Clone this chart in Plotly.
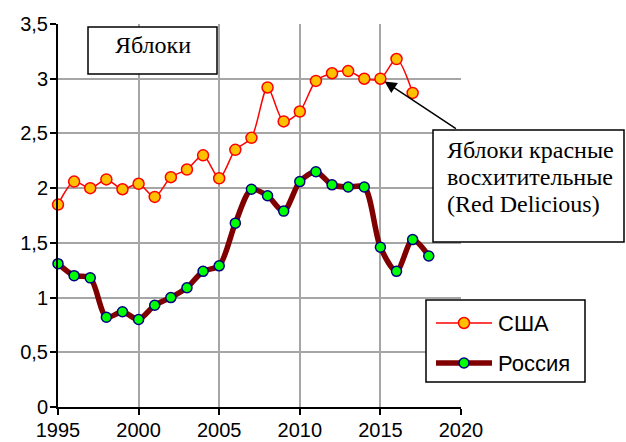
import plotly.graph_objects as go

# Apple prices, USA (Red Delicious) and Russia
years_usa = list(range(1995, 2018))
usa = [1.85, 2.06, 2.00, 2.08, 1.99, 2.04, 1.92, 2.10, 2.17, 2.30, 2.09, 2.35,
       2.46, 2.92, 2.61, 2.70, 2.98, 3.05, 3.07, 3.00, 3.00, 3.18, 2.87]

years_rus = list(range(1995, 2019))
russia = [1.31, 1.20, 1.18, 0.82, 0.87, 0.80, 0.93, 1.00, 1.09, 1.24, 1.29, 1.68,
          1.99, 1.93, 1.79, 2.06, 2.15, 2.03, 2.01, 2.01, 1.46, 1.24, 1.53, 1.38]

x_ticks = [1995, 2000, 2005, 2010, 2015, 2020]
y_ticks = [0, 0.5, 1, 1.5, 2, 2.5, 3, 3.5]

title_text = "Яблоки"
callout_lines = ["Яблоки красные", "восхитительные", "(Red Delicious)"]

SANS = "Liberation Sans"
SERIF = "Liberation Serif"

W, H = 626, 442
ML, MR, MT, MB = 58, 165, 24, 35
PW, PH = W - ML - MR, H - MT - MB


def px(x):
    """Page pixel x -> paper fraction."""
    return (x - ML) / PW


def py(y):
    """Page pixel y -> paper fraction."""
    return (H - MB - y) / PH


USA_LINE = "#FF0000"
USA_FILL = "#FFC000"
RUS_LINE = "#800000"
RUS_FILL = "#00FF00"
RUS_EDGE = "#000080"

fig = go.Figure()

fig.add_trace(go.Scatter(
    x=years_usa, y=usa, name="США", mode="lines+markers",
    line=dict(color=USA_LINE, width=1.5, shape="spline", smoothing=0.8),
    marker=dict(size=11, color=USA_FILL, line=dict(color=USA_LINE, width=1.5)),
    cliponaxis=False,
))
fig.add_trace(go.Scatter(
    x=years_rus, y=russia, name="Россия", mode="lines+markers",
    line=dict(color=RUS_LINE, width=5.5, shape="spline", smoothing=0.8),
    marker=dict(size=10, color=RUS_FILL, line=dict(color=RUS_EDGE, width=1.5)),
    cliponaxis=False,
))

# Title box
fig.add_shape(type="rect", xref="paper", yref="paper",
              x0=px(88), x1=px(217), y0=py(74), y1=py(27),
              line=dict(color="black", width=1.5), fillcolor="white", layer="above")
fig.add_annotation(
    xref="paper", yref="paper", x=px(152.5), y=py(45),
    xanchor="center", yanchor="middle",
    text=title_text, showarrow=False,
    font=dict(family=SERIF, size=24, color="black"),
)

# Arrow pointing at the 2015 value
fig.add_annotation(
    x=2015, y=usa[years_usa.index(2015)], xref="x", yref="y",
    ax=77, ay=51, text="", showarrow=True,
    arrowhead=2, arrowsize=1.6, arrowwidth=1.5, arrowcolor="black",
    standoff=5,
)

# Callout box
fig.add_shape(type="rect", xref="paper", yref="paper",
              x0=px(433), x1=px(624), y0=py(242), y1=py(130),
              line=dict(color="black", width=1.5), fillcolor="white", layer="above")
for i, line_text in enumerate(callout_lines):
    fig.add_annotation(
        xref="paper", yref="paper", x=px(445), y=py(150 + 27 * i),
        xanchor="left", yanchor="middle",
        text=line_text, showarrow=False,
        font=dict(family=SERIF, size=24, color="black"),
    )

# Legend, drawn as layout shapes and text
fig.add_shape(type="rect", xref="paper", yref="paper",
              x0=px(426), x1=px(585), y0=py(382), y1=py(300),
              line=dict(color="black", width=1.5), fillcolor="white", layer="above")
legend_rows = [
    ("США", 323, USA_LINE, 1.5, USA_FILL, USA_LINE, 11),
    ("Россия", 363, RUS_LINE, 5.5, RUS_FILL, RUS_EDGE, 10),
]
for label, yrow, lc, lw, fc, ec, ms in legend_rows:
    fig.add_shape(type="line", xref="paper", yref="paper",
                  x0=px(436), x1=px(492), y0=py(yrow), y1=py(yrow),
                  line=dict(color=lc, width=lw), layer="above")
    fig.add_shape(type="circle", xref="paper", yref="paper",
                  xsizemode="pixel", ysizemode="pixel",
                  xanchor=px(464), yanchor=py(yrow),
                  x0=-ms / 2, x1=ms / 2, y0=-ms / 2, y1=ms / 2,
                  line=dict(color=ec, width=1.5), fillcolor=fc, layer="above")
    fig.add_annotation(xref="paper", yref="paper", x=px(496), y=py(yrow),
                       xanchor="left", yanchor="middle", text=label,
                       showarrow=False,
                       font=dict(family=SANS, size=22, color="black"))

fig.update_layout(
    width=W, height=H,
    margin=dict(l=ML, r=MR, t=MT, b=MB),
    paper_bgcolor="white", plot_bgcolor="white",
    separators=", ",
    showlegend=False,
)

fig.update_xaxes(
    range=[1995, 2020], tickvals=x_ticks, automargin=False,
    showgrid=True, gridcolor="#A6A6A6", gridwidth=1.5,
    showline=True, linecolor="black", linewidth=2,
    ticks="outside", ticklen=6, tickwidth=1.5, tickcolor="black",
    tickfont=dict(family=SANS, size=20, color="black"),
    ticklabelstandoff=-2,
    zeroline=False,
)
fig.update_yaxes(
    range=[0, 3.5], tickvals=y_ticks, automargin=False,
    showgrid=True, gridcolor="#A6A6A6", gridwidth=1.5,
    showline=True, linecolor="black", linewidth=2,
    ticks="outside", ticklen=6, tickwidth=1.5, tickcolor="black",
    tickfont=dict(family=SANS, size=20, color="black"),
    ticklabelstandoff=-2,
    zeroline=False,
)

fig.write_html("out.html")
